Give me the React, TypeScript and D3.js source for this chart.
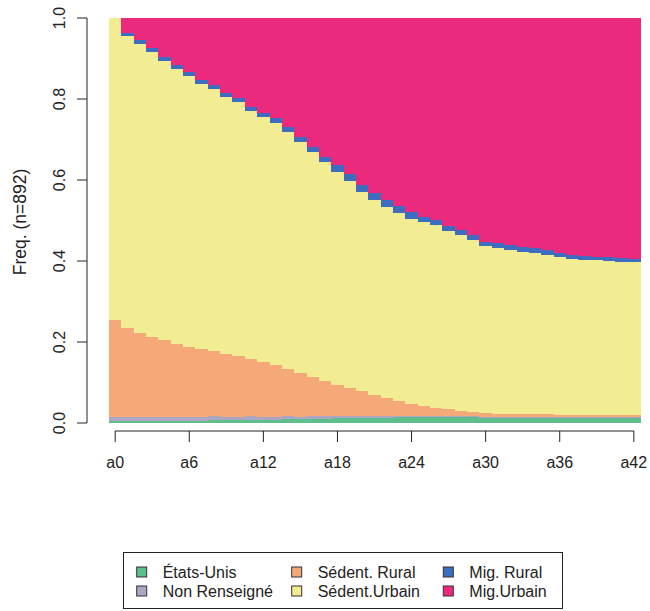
import React from "react";
import * as d3 from "d3";

const timePoints = Array.from({ length: 43 }, (_, i) => `a${i}`);
const tickLabels = ["a0", "a6", "a12", "a18", "a24", "a30", "a36", "a42"];
const yTicks = [0, 0.2, 0.4, 0.6, 0.8, 1.0];

const stateNames = ["États-Unis", "Non Renseigné", "Sédent. Rural", "Sédent.Urbain", "Mig. Rural", "Mig.Urbain"];
const stateColors = ["#5fbf8c", "#aaa6c4", "#f6a978", "#f2ed92", "#3c6dbf", "#eb2a7e"];

const etatsUnis = [0.004,0.004,0.005,0.005,0.005,0.006,0.006,0.006,0.007,0.007,0.007,0.008,0.008,0.008,0.009,0.009,0.010,0.011,0.012,0.012,0.013,0.013,0.013,0.014,0.014,0.014,0.014,0.014,0.014,0.014,0.013,0.013,0.013,0.013,0.013,0.013,0.013,0.012,0.012,0.012,0.012,0.012,0.012];
const nonRenseigne = [0.012,0.012,0.011,0.011,0.011,0.010,0.010,0.010,0.010,0.009,0.009,0.009,0.008,0.008,0.008,0.007,0.007,0.006,0.006,0.005,0.005,0.004,0.004,0.004,0.004,0.003,0.003,0.003,0.003,0.003,0.003,0.003,0.003,0.002,0.002,0.002,0.002,0.002,0.002,0.002,0.002,0.002,0.002];
const sedentRural = [0.238,0.219,0.206,0.197,0.189,0.179,0.172,0.166,0.160,0.155,0.149,0.141,0.134,0.126,0.116,0.108,0.097,0.087,0.077,0.069,0.060,0.053,0.045,0.037,0.030,0.026,0.021,0.017,0.013,0.010,0.009,0.006,0.006,0.006,0.006,0.006,0.005,0.006,0.006,0.006,0.005,0.005,0.005];
const sedentUrbain = [0.746,0.720,0.713,0.703,0.689,0.679,0.669,0.655,0.648,0.634,0.627,0.612,0.605,0.599,0.586,0.570,0.555,0.541,0.524,0.511,0.492,0.480,0.471,0.463,0.456,0.454,0.451,0.440,0.435,0.425,0.411,0.410,0.406,0.402,0.399,0.394,0.391,0.386,0.383,0.382,0.381,0.379,0.378];
const migRural = [0.000,0.008,0.010,0.010,0.010,0.010,0.010,0.010,0.010,0.010,0.010,0.010,0.010,0.012,0.012,0.012,0.012,0.012,0.018,0.018,0.018,0.018,0.018,0.018,0.018,0.012,0.012,0.012,0.012,0.012,0.012,0.012,0.012,0.012,0.012,0.012,0.009,0.009,0.009,0.009,0.009,0.009,0.009];
const migUrbain = [0.000,0.037,0.055,0.074,0.096,0.116,0.133,0.153,0.165,0.185,0.198,0.220,0.235,0.247,0.269,0.294,0.319,0.343,0.363,0.385,0.412,0.432,0.449,0.464,0.478,0.491,0.499,0.514,0.523,0.536,0.552,0.556,0.560,0.565,0.568,0.573,0.580,0.585,0.588,0.589,0.591,0.593,0.594];

const seriesValues = [etatsUnis, nonRenseigne, sedentRural, sedentUrbain, migRural, migUrbain];

const W = 650;
const H = 611;
const FONT = "'Liberation Sans', Arial, Helvetica, sans-serif";

export default function App() {
  const x = d3.scaleBand<string>().domain(timePoints).range([109, 640]).padding(0);
  const y = d3.scaleLinear().domain([0, 1]).range([423, 18]);

  const rows = timePoints.map((t, i) => {
    const r: any = { t };
    stateNames.forEach((s, k) => (r[s] = seriesValues[k][i]));
    return r;
  });
  const stacked = d3.stack<any>().keys(stateNames)(rows);

  const bw = x.bandwidth();
  const xCenter = (t: string) => (x(t) as number) + bw / 2;

  const legendCols = [141.7, 296.7, 448.3];
  const legendRows = [572, 591];

  return (
    <svg width={W} height={H} style={{ position: "absolute", left: 0, top: 0, background: "#fff" }} fontFamily={FONT}>
      <g shapeRendering="crispEdges">
        {stacked.map((layer, k) => (
          <g key={k} fill={stateColors[k]}>
            {layer.map((d, i) => {
              const y0 = y(d[0]);
              const y1 = k === stacked.length - 1 ? y(1) : y(d[1]);
              return <rect key={i} x={x(timePoints[i])} y={y1} width={bw + 0.6} height={Math.max(0, y0 - y1)} />;
            })}
          </g>
        ))}
      </g>

      {/* y axis */}
      <g stroke="#222" strokeWidth={1}>
        <line x1={87} x2={87} y1={y(0)} y2={y(1)} />
        {yTicks.map((v) => (
          <line key={v} x1={77} x2={87} y1={y(v)} y2={y(v)} />
        ))}
      </g>
      {yTicks.map((v) => (
        <text key={v} transform={`translate(65,${y(v)}) rotate(-90)`} textAnchor="middle" fontSize={16} fill="#222">
          {v.toFixed(1)}
        </text>
      ))}
      <text transform={`translate(26,222) rotate(-90)`} textAnchor="middle" fontSize={17.5} fill="#222">
        Freq. (n=892)
      </text>

      {/* x axis */}
      <g stroke="#222" strokeWidth={1}>
        <line x1={xCenter(tickLabels[0])} x2={xCenter(tickLabels[tickLabels.length - 1])} y1={431} y2={431} />
        {tickLabels.map((t) => (
          <line key={t} x1={xCenter(t)} x2={xCenter(t)} y1={431} y2={442} />
        ))}
      </g>
      {tickLabels.map((t) => (
        <text key={t} x={xCenter(t)} y={468} textAnchor="middle" fontSize={16} fill="#222">
          {t}
        </text>
      ))}

      {/* legend */}
      <rect x={123.5} y={552.5} width={439} height={56} fill="#fff" stroke="#222" strokeWidth={1} />
      {stateNames.map((s, k) => {
        const col = Math.floor(k / 2);
        const row = k % 2;
        const cx = legendCols[col];
        const cy = legendRows[row];
        return (
          <g key={s}>
            <rect x={cx - 5} y={cy - 5} width={10} height={10} fill={stateColors[k]} stroke="#333" strokeWidth={1} />
            <text x={cx + 21} y={cy + 5.5} fontSize={16} fill="#222">
              {s}
            </text>
          </g>
        );
      })}
    </svg>
  );
}
